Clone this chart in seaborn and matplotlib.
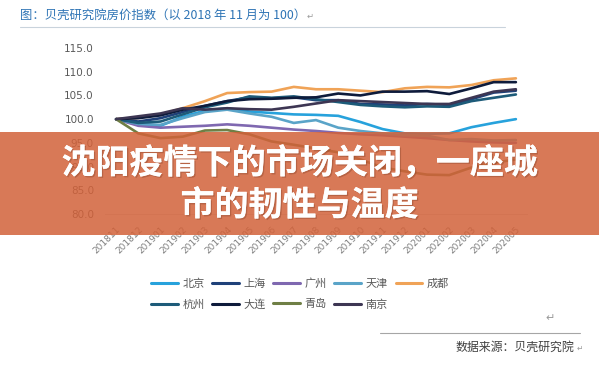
import pandas as pd
import matplotlib.pyplot as plt
import matplotlib.patheffects as pe
from matplotlib.patches import Rectangle
from matplotlib.lines import Line2D
import matplotlib.transforms as mtransforms
import seaborn as sns

# 月份（以2018年11月为100）
months = ['201811', '201812', '201901', '201902', '201903', '201904', '201905',
          '201906', '201907', '201908', '201909', '201910', '201911', '201912',
          '202001', '202002', '202003', '202004', '202005']

beijing = [100, 98.8, 98.6, 100.5, 101.8, 102.3, 101.6, 101.3, 101.0, 100.9,
           100.7, 99.4, 97.9, 97.0, 96.9, 97.0, 98.3, 99.2, 100.0]
shanghai = [100, 99.5, 100.2, 101.5, 102.8, 103.8, 104.6, 104.4, 104.6, 104.0,
            104.0, 103.2, 103.1, 102.9, 103.2, 103.0, 104.2, 105.6, 106.0]
guangzhou = [100, 98.6, 98.2, 98.4, 98.6, 98.9, 98.6, 98.2, 97.8, 97.5,
             97.1, 96.8, 96.6, 96.3, 96.0, 95.6, 95.3, 95.1, 95.0]
tianjin = [100, 99.0, 98.8, 100.2, 101.5, 102.0, 101.2, 100.5, 99.2, 99.8,
           98.2, 97.5, 97.0, 96.6, 96.5, 95.6, 95.8, 95.5, 95.6]
chengdu = [100, 100.3, 101.0, 102.3, 103.8, 105.5, 105.7, 105.8, 106.8, 106.3,
           106.3, 106.0, 105.7, 106.5, 106.8, 106.7, 107.2, 108.2, 108.6]
hangzhou = [100, 99.2, 99.5, 101.0, 102.5, 103.5, 104.8, 104.5, 104.8, 104.2,
            103.6, 103.0, 102.7, 102.5, 102.7, 102.6, 103.8, 104.5, 105.2]
dalian = [100, 100.2, 100.8, 102.0, 102.8, 103.8, 104.2, 104.3, 104.5, 104.6,
          105.4, 105.0, 105.8, 105.8, 105.9, 105.3, 106.5, 107.8, 107.8]
qingdao = [100, 97.0, 96.0, 96.3, 97.6, 97.7, 96.8, 95.3, 94.6, 93.8,
           93.0, 91.5, 89.8, 89.0, 88.3, 88.2, 89.8, 90.8, 91.5]
nanjing = [100, 100.6, 101.2, 102.3, 102.0, 102.3, 102.1, 102.0, 102.6, 103.3,
           104.0, 103.8, 103.6, 103.4, 103.2, 103.2, 104.5, 105.8, 106.3]

cities = ['北京', '上海', '广州', '天津', '成都', '杭州', '大连', '青岛', '南京']
series = [beijing, shanghai, guangzhou, tianjin, chengdu, hangzhou, dalian, qingdao, nanjing]
colors = ['#27a2dc', '#1f4179', '#7f68b0', '#5aa4c8', '#f0a357',
          '#1d5b79', '#0e1b3b', '#6f7f45', '#3d3653']

yticks = [80.0, 85.0, 90.0, 95.0, 100.0, 105.0, 110.0, 115.0]

rows = []
for city, vals in zip(cities, series):
    for i, v in enumerate(vals):
        rows.append({'月份': i, '城市': city, '指数': v})
df = pd.DataFrame(rows)

sns.set_theme(style='white')
plt.rcParams['font.family'] = ['Noto Sans CJK SC', 'DejaVu Sans']

fig = plt.figure(figsize=(5.99, 3.69), dpi=100)
ax = fig.add_axes([105 / 599, 1 - 214 / 369, 422 / 599, 166 / 369])

sns.lineplot(data=df, x='月份', y='指数', hue='城市', hue_order=cities,
             palette=dict(zip(cities, colors)), linewidth=1.9, ax=ax, legend=False)

ax.set_xlim(-0.5, len(months) - 0.5)
ax.set_ylim(80, 115)
ax.set_yticks(yticks)
ax.set_yticklabels([f'{v:.1f}' for v in yticks], fontsize=7.5, color='#595959',
                   family=['DejaVu Sans'])
ax.set_xticks(range(len(months)))
ax.set_xticklabels(months, rotation=45, ha='right', rotation_mode='anchor',
                   fontsize=6.5, color='#7f7f7f', family=['DejaVu Sans'])
offset = mtransforms.ScaledTranslation(-6 / 100, -3 / 100, fig.dpi_scale_trans)
for lab in ax.get_xticklabels():
    lab.set_transform(lab.get_transform() + offset)
ax.tick_params(axis='both', length=0, pad=8)
ax.set_xlabel('')
ax.set_ylabel('')
for s in ['top', 'right', 'left']:
    ax.spines[s].set_visible(False)
ax.spines['bottom'].set_color('#d9d9d9')
ax.spines['bottom'].set_linewidth(0.8)

# 图例：两行五列
handles = [Line2D([], [], color=c, lw=2.2) for c in colors]
order = [0, 5, 1, 6, 2, 7, 3, 8, 4]
ax.legend([handles[i] for i in order], [cities[i] for i in order], ncol=5,
          loc='center', bbox_to_anchor=(300 / 599, 1 - 294 / 369),
          bbox_transform=fig.transFigure, frameon=False, fontsize=8,
          handlelength=2.4, handletextpad=0.4, columnspacing=0.7,
          labelspacing=0.95, labelcolor='#595959')

# 标题与分隔线
fig.text(20 / 599, 1 - 15 / 369, '图：贝壳研究院房价指数（以 2018 年 11 月为 100）',
         fontsize=8.9, color='#2e74b5', va='center', ha='left')
fig.text(307 / 599, 1 - 16 / 369, '↵', fontsize=6, color='#9a9a9a', va='center',
         family=['DejaVu Sans'])
fig.add_artist(Line2D([20 / 599, 505 / 599], [1 - 27 / 369, 1 - 27 / 369],
                      color='#c9d3dc', lw=0.8, transform=fig.transFigure))

# 底部来源
fig.text(545 / 599, 1 - 318 / 369, '↵', fontsize=8, color='#9a9a9a', va='center',
         family=['DejaVu Sans'])
fig.add_artist(Line2D([380 / 599, 580 / 599], [1 - 333 / 369, 1 - 333 / 369],
                      color='#a6a6a6', lw=0.8, transform=fig.transFigure))
fig.text(456 / 599, 1 - 347 / 369, '数据来源：贝壳研究院', fontsize=8.6,
         color='#404040', va='center', ha='left')
fig.text(577 / 599, 1 - 348 / 369, '↵', fontsize=5.5, color='#9a9a9a', va='center',
         family=['DejaVu Sans'])

# 橙色横幅
banner = Rectangle((0, 1 - 235 / 369), 1, 103 / 369, transform=fig.transFigure,
                   facecolor='#d2623a', alpha=0.85, edgecolor='none', zorder=5)
fig.add_artist(banner)
shadow = [pe.withSimplePatchShadow(offset=(1, -1), shadow_rgbFace='#7a3a22', alpha=0.35),
          pe.Normal()]
fig.text(0.5, 1 - 163 / 369, '沈阳疫情下的市场关闭，一座城', fontsize=24.5,
         fontweight='bold', color='white', ha='center', va='center', zorder=6,
         path_effects=shadow)
fig.text(0.5, 1 - 205 / 369, '市的韧性与温度', fontsize=24.5,
         fontweight='bold', color='white', ha='center', va='center', zorder=6,
         path_effects=shadow)

fig.savefig('out.png', dpi=100)
